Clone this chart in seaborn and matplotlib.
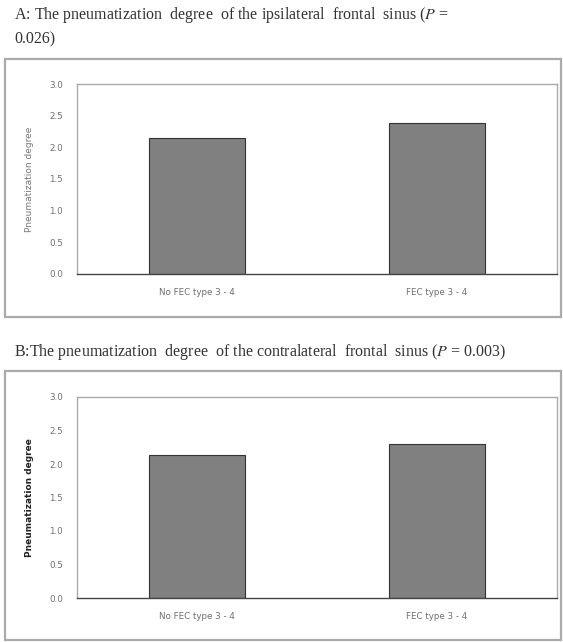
import matplotlib
matplotlib.use("Agg")
import matplotlib.pyplot as plt
import pandas as pd
import seaborn as sns
from matplotlib.patches import Rectangle


CATEGORIES = ["No FEC type 3 - 4", "FEC type 3 - 4"]
IPSILATERAL = [2.15, 2.38]
CONTRALATERAL = [2.13, 2.30]
Y_TICKS = [0.0, 0.5, 1.0, 1.5, 2.0, 2.5, 3.0]

TITLE_A = "A: The pneumatization  degree  of the ipsilateral  frontal  sinus ($\\it{P}$ =\n0.026)"
TITLE_B = "B:The pneumatization  degree  of the contralateral  frontal  sinus ($\\it{P}$ = 0.003)"

W, H = 563, 642


def fx(px):
    return px / W


def fy(py):
    return 1 - py / H


def draw_panel(fig, rect, values, bold_label):
    ax = fig.add_axes(rect)
    df = pd.DataFrame({"group": CATEGORIES, "value": values})
    sns.barplot(data=df, x="group", y="value", ax=ax, color="#808080",
                edgecolor="#333333", linewidth=0.8, width=0.4, saturation=1)
    ax.set_xlim(-0.5, 1.5)
    ax.set_ylim(0, 3.0)
    ax.set_yticks(Y_TICKS)
    ax.set_yticklabels([f"{t:.1f}" for t in Y_TICKS], fontsize=6.3, color="#707070",
                       family="DejaVu Sans")
    ax.set_xticks([0, 1])
    ax.set_xticklabels(CATEGORIES, fontsize=6.3, color="#707070", family="DejaVu Sans")
    ax.set_xticks([0.5], minor=True)
    ax.tick_params(axis="x", which="major", length=0, pad=10)
    ax.tick_params(axis="x", which="minor", length=3, color="#999999")
    ax.tick_params(axis="y", length=4, color="#999999", pad=6)
    ax.set_xlabel("")
    if bold_label:
        ax.set_ylabel("Pneumatization degree", fontsize=6.5, fontweight="bold",
                      color="#222222", family="DejaVu Sans", labelpad=11)
    else:
        ax.set_ylabel("Pneumatization degree", fontsize=6.5, color="#777777",
                      family="DejaVu Sans", labelpad=11)
    for side in ["top", "right", "left"]:
        ax.spines[side].set_color("#aaaaaa")
        ax.spines[side].set_linewidth(1.0)
    ax.spines["bottom"].set_color("#444444")
    ax.spines["bottom"].set_linewidth(1.0)
    ax.set_facecolor("white")
    return ax


def main() -> None:
    sns.set_style("white")
    plt.rcParams["mathtext.fontset"] = "stix"
    fig = plt.figure(figsize=(W / 100, H / 100), dpi=100)
    fig.patch.set_facecolor("white")

    # outer frames
    for top, bottom in [(59, 317), (371, 640)]:
        fig.patches.append(Rectangle((fx(5), fy(bottom)), fx(556), (bottom - top) / H,
                                     transform=fig.transFigure, fill=False,
                                     edgecolor="#aaaaaa", linewidth=1.6))

    fig.text(fx(14), fy(5), TITLE_A, ha="left", va="top", fontsize=11.5,
             family="Liberation Serif", color="#333333", linespacing=1.5)
    fig.text(fx(14), fy(342), TITLE_B, ha="left", va="top", fontsize=11.5,
             family="Liberation Serif", color="#333333")

    draw_panel(fig, [fx(77), fy(274), fx(480), 190 / H], IPSILATERAL, False)
    draw_panel(fig, [fx(77), fy(598), fx(480), 201 / H], CONTRALATERAL, True)

    fig.savefig("out.png", dpi=100, facecolor="white")
    plt.close(fig)


if __name__ == "__main__":
    main()
